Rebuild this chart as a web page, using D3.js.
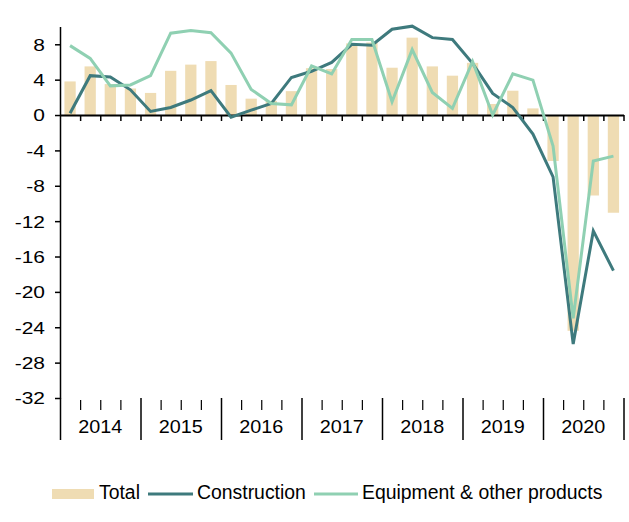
<!DOCTYPE html>
<html>
<head>
<meta charset="utf-8">
<script src="https://cdn.jsdelivr.net/npm/d3@7"></script>
<style>
  html, body { margin: 0; padding: 0; background: #fff; }
  svg { display: block; font-family: "Liberation Sans", Arial, sans-serif; }
</style>
</head>
<body>
<svg id="chart" width="629" height="522"></svg>
<script>
// ---- data ----
const years = ["2014", "2015", "2016", "2017", "2018", "2019", "2020"];
const quarters = ["Q1", "Q2", "Q3", "Q4"];
const total = [3.8, 5.5, 3.5, 3.0, 2.5, 5.0, 5.7, 6.1, 3.4, 1.85, 1.6, 2.7,
               5.3, 5.2, 8.1, 8.2, 5.35, 8.75, 5.5, 4.45, 5.9, 1.25, 2.75, 0.75,
               -5.2, -24.4, -9.1, -11.05];
const construction = [0.2, 4.45, 4.3, 2.85, 0.4, 0.85, 1.7, 2.75, -0.25, 0.55, 1.3, 4.25,
                      4.95, 5.95, 8.0, 7.9, 9.7, 10.05, 8.75, 8.55, 5.85, 2.45, 0.85, -2.15,
                      -7.0, -25.9, -13.1, -17.6];
const equipment = [7.85, 6.4, 3.3, 3.4, 4.45, 9.25, 9.55, 9.3, 7.0, 2.9, 1.3, 1.15,
                   5.55, 4.65, 8.55, 8.55, 1.5, 7.4, 2.55, 0.75, 6.05, 0.0, 4.65, 3.95,
                   -3.5, -23.0, -5.2, -4.65];
const yTicks = [8, 4, 0, -4, -8, -12, -16, -20, -24, -28, -32];
const seriesNames = ["Total", "Construction", "Equipment & other products"];

// ---- styles ----
const colTotal = "#efdcb3";
const colCons = "#3e7a7d";
const colEquip = "#8fd0b2";

const periods = [];
years.forEach(y => quarters.forEach(q => periods.push(y + " " + q)));

const svg = d3.select("#chart");
const left = 60, right = 623.5;

const x = d3.scaleBand().domain(periods).range([left, right])
  .paddingInner(0.44).paddingOuter(0.22);
const xb = d3.scaleLinear().domain([0, periods.length]).range([left, right]);
const y = d3.scaleLinear().domain([-32, 10]).range([398, 26.6]);

const cx = i => x(periods[i]) + x.bandwidth() / 2;

// bars
svg.append("g").selectAll("rect").data(total).join("rect")
  .attr("x", (d, i) => x(periods[i]))
  .attr("width", x.bandwidth())
  .attr("y", d => Math.min(y(d), y(0)))
  .attr("height", d => Math.abs(y(d) - y(0)))
  .attr("fill", colTotal);

// zero axis with quarter ticks
const zeroAxis = svg.append("g").attr("transform", `translate(0,${y(0)})`)
  .call(d3.axisBottom(xb).tickValues(d3.range(1, periods.length + 1)).tickSize(6).tickSizeOuter(0).tickFormat(""));
zeroAxis.select(".domain").attr("stroke", "#000").attr("stroke-width", 2);
zeroAxis.selectAll(".tick line").attr("stroke", "#000").attr("stroke-width", 1.5);

// bottom category axis: quarter ticks
const qTickVals = d3.range(1, periods.length).filter(v => v % 4 !== 0);
const bq = svg.append("g").attr("transform", `translate(0,${y(-32) + 2})`)
  .call(d3.axisBottom(xb).tickValues(qTickVals).tickSize(10).tickFormat(""));
bq.select(".domain").remove();
bq.selectAll(".tick line").attr("stroke", "#000").attr("stroke-width", 1.2);

// year separators
const bs = svg.append("g").attr("transform", `translate(0,${y(-32)})`)
  .call(d3.axisBottom(xb).tickValues(d3.range(0, periods.length + 1, 4)).tickSize(42).tickFormat(""));
bs.select(".domain").remove();
bs.selectAll(".tick line").attr("stroke", "#000").attr("stroke-width", 1.5);

// year labels
svg.append("g").selectAll("text").data(years).join("text")
  .attr("transform", (d, i) => `translate(${(xb(i * 4) + xb(i * 4 + 4)) / 2},433) scale(1.1,1)`)
  .attr("text-anchor", "middle")
  .attr("font-size", 18)
  .attr("fill", "#000")
  .text(d => d);

// y axis
const ya = svg.append("g").attr("transform", `translate(${left},0)`)
  .call(d3.axisLeft(y).tickValues(yTicks).tickSize(5).tickSizeOuter(0).tickFormat(d3.format("d")));
ya.select(".domain").attr("stroke", "#000").attr("stroke-width", 1.5);
ya.selectAll(".tick line").attr("stroke", "#000").attr("stroke-width", 1.5);
ya.selectAll(".tick text")
  .attr("x", null).attr("dy", "0.36em")
  .attr("transform", "translate(-15,0) scale(1.27,1)")
  .attr("font-size", 16.5)
  .attr("font-family", "'Liberation Sans', Arial, sans-serif")
  .attr("fill", "#000")
  .text(d => d === 0 ? "0" : String(d).replace("\u2212", "-"));

// lines
const line = d3.line().x((d, i) => cx(i)).y(d => y(d));
svg.append("path").datum(construction).attr("d", line)
  .attr("fill", "none").attr("stroke", colCons).attr("stroke-width", 3).attr("stroke-linejoin", "miter");
svg.append("path").datum(equipment).attr("d", line)
  .attr("fill", "none").attr("stroke", colEquip).attr("stroke-width", 3).attr("stroke-linejoin", "miter");

// legend
const lg = svg.append("g").attr("font-size", 19.4).attr("fill", "#000");
lg.append("rect").attr("x", 52).attr("y", 489).attr("width", 42).attr("height", 10).attr("fill", colTotal);
lg.append("text").attr("x", 99).attr("y", 498.5).text(seriesNames[0]);
lg.append("line").attr("x1", 148).attr("x2", 193).attr("y1", 494).attr("y2", 494)
  .attr("stroke", colCons).attr("stroke-width", 3);
lg.append("text").attr("x", 197).attr("y", 498.5).text(seriesNames[1]);
lg.append("line").attr("x1", 314).attr("x2", 358).attr("y1", 494).attr("y2", 494)
  .attr("stroke", colEquip).attr("stroke-width", 3);
lg.append("text").attr("x", 362).attr("y", 498.5).text(seriesNames[2]);
</script>
</body>
</html>
